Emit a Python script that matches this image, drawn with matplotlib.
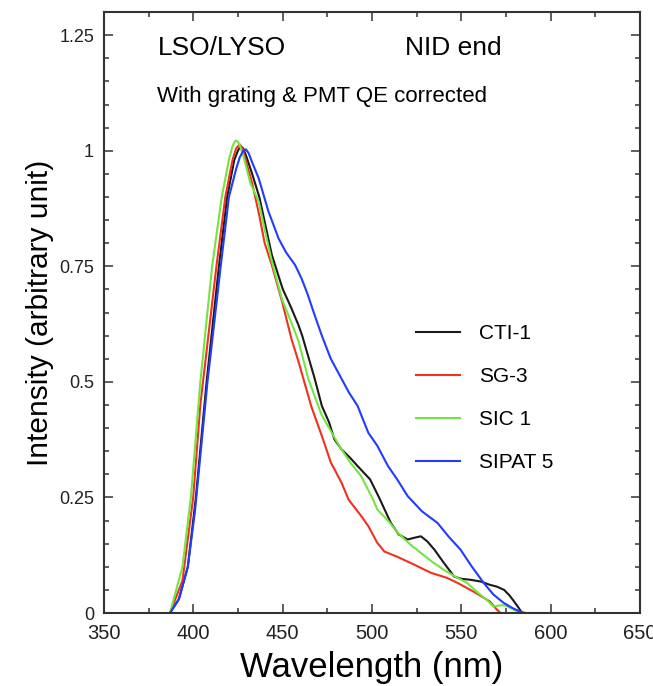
import matplotlib
matplotlib.use("Agg")
import matplotlib.pyplot as plt
from matplotlib.ticker import MultipleLocator

plt.rcParams["font.family"] = ["Liberation Sans", "DejaVu Sans"]

# emission spectra
cti_wl = [387, 392, 397, 401.5, 407.5, 414.4, 419, 423, 425, 426.5, 428, 430, 433, 437, 444,
          450, 455, 459, 461, 468, 472, 476, 479, 483, 488, 492, 499, 504, 510.6, 515, 520,
          524, 527.4, 531, 535, 540, 546, 550, 555, 561, 566, 570, 574, 577, 579, 582, 584]
cti_int = [0, 0.03, 0.1, 0.25, 0.5, 0.75, 0.9, 0.98, 1.0, 1.01, 1.005, 0.985, 0.95, 0.9,
           0.775, 0.702, 0.659, 0.622, 0.6, 0.507, 0.448, 0.413, 0.376, 0.354, 0.335, 0.318,
           0.289, 0.25, 0.195, 0.17, 0.159, 0.163, 0.166, 0.155, 0.137, 0.11, 0.079, 0.074,
           0.072, 0.068, 0.061, 0.057, 0.05, 0.038, 0.028, 0.012, 0]

sg_wl = [387, 394, 400, 404, 407, 413, 418, 422, 424, 426, 427.5, 429, 433, 437, 440, 444,
         450, 455, 459, 466, 472, 477, 483, 487, 494, 498, 503, 507, 514, 524, 533, 542, 548,
         557, 566, 570, 572]
sg_int = [0, 0.07, 0.25, 0.45, 0.55, 0.75, 0.9, 0.98, 1.005, 1.014, 1.005, 0.985, 0.93,
          0.86, 0.8, 0.753, 0.67, 0.593, 0.543, 0.448, 0.383, 0.326, 0.282, 0.245, 0.21,
          0.188, 0.152, 0.133, 0.122, 0.104, 0.087, 0.076, 0.065, 0.046, 0.025, 0.007, 0]

sic_wl = [387, 394, 398.7, 404, 410.6, 416, 420, 422, 423.7, 425, 426, 428, 432, 436.7, 440,
          444, 449.6, 457, 459, 464.4, 471.7, 479, 483, 488, 494, 500.6, 503, 509, 514.4, 521,
          527.4, 534, 540.4, 547, 553.3, 559, 564.4, 568, 571, 574, 578, 583]
sic_int = [0, 0.1, 0.25, 0.5, 0.75, 0.9, 0.98, 1.01, 1.022, 1.02, 1.012, 0.99, 0.93, 0.89,
           0.83, 0.761, 0.68, 0.608, 0.587, 0.507, 0.43, 0.38, 0.354, 0.325, 0.296, 0.246,
           0.224, 0.2, 0.174, 0.15, 0.13, 0.11, 0.093, 0.078, 0.065, 0.045, 0.028, 0.014,
           0.016, 0.017, 0.01, 0]

sipat_wl = [387, 392, 397, 401, 403, 408, 415.4, 420, 424, 426, 428, 429.5, 431, 433, 436.7,
            442, 447.8, 452, 457, 460.6, 464, 468, 472, 477, 483, 487, 492, 498, 503, 509,
            514, 520, 528, 536.7, 543, 549.6, 556, 562.6, 568, 573.7, 579, 583, 586, 603]
sipat_int = [0, 0.03, 0.1, 0.22, 0.3, 0.5, 0.75, 0.9, 0.96, 0.985, 1.0, 1.003, 0.995,
             0.975, 0.94, 0.87, 0.81, 0.78, 0.753, 0.724, 0.69, 0.644, 0.6, 0.55, 0.507,
             0.478, 0.448, 0.39, 0.362, 0.318, 0.29, 0.253, 0.22, 0.195, 0.165, 0.137, 0.1,
             0.065, 0.04, 0.022, 0.01, 0.003, 0, 0]

labels = ["CTI-1", "SG-3", "SIC 1", "SIPAT 5"]
colors = ["#1a1a1a", "#f2301e", "#72e640", "#1f3cff"]

fig = plt.figure(figsize=(6.53, 6.86), dpi=100)
ax = fig.add_axes([0.159, 0.1064, 0.821, 0.876])

series = [(cti_wl, cti_int), (sg_wl, sg_int), (sic_wl, sic_int), (sipat_wl, sipat_int)]
for (wl, inten), lab, c in zip(series, labels, colors):
    ax.plot(wl, inten, color=c, lw=1.5, label=lab, solid_joinstyle="round")

ax.set_xlim(350, 650)
ax.set_ylim(0, 1.3)
ax.set_xticks([350, 400, 450, 500, 550, 600, 650])
ax.set_yticks([0, 0.25, 0.5, 0.75, 1, 1.25])
ax.set_yticklabels(["0", "0.25", "0.5", "0.75", "1", "1.25"])
ax.xaxis.set_minor_locator(MultipleLocator(25))
ax.yaxis.set_minor_locator(MultipleLocator(0.05))
ax.tick_params(which="both", direction="in", top=True, right=True, width=1.1, color="#333333")
ax.tick_params(which="major", length=6.5)
ax.tick_params(which="minor", length=3.5)
ax.tick_params(axis="x", labelsize=14.5, pad=8, labelcolor="#222222")
ax.tick_params(axis="y", labelsize=13, pad=7, labelcolor="#222222")
for s in ax.spines.values():
    s.set_linewidth(1.5)
    s.set_color("#333333")

ax.set_xlabel("Wavelength (nm)", fontsize=25, labelpad=6)
ax.set_ylabel("Intensity (arbitrary unit)", fontsize=21.5, labelpad=4)

ax.text(380, 1.223, "LSO/LYSO", fontsize=19, va="center", ha="left")
ax.text(518.5, 1.223, "NID end", fontsize=19, va="center", ha="left")
ax.text(380, 1.117, "With grating & PMT QE corrected", fontsize=16, va="center", ha="left")

ax.legend(loc="upper left", bbox_to_anchor=(524.6, 0.625), bbox_transform=ax.transData,
          frameon=False, fontsize=15, handlelength=2.1, handletextpad=0.95,
          labelspacing=1.15, borderpad=0, borderaxespad=0)

fig.savefig("out.png", dpi=100)
